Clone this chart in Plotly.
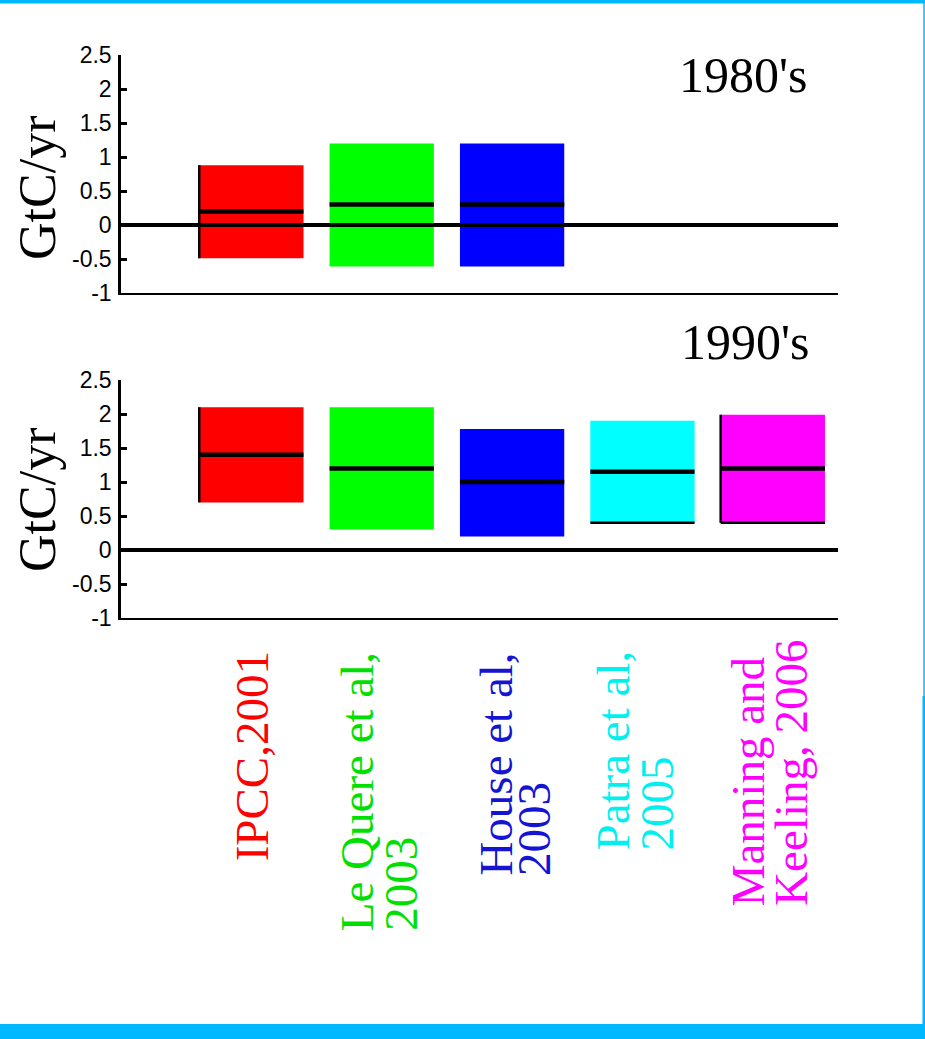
import plotly.graph_objects as go

# ---------------- data ----------------
x_pos = [1, 2, 3, 4, 5]
label_lines = [
    ["IPCC,2001"],
    ["Le Quere et al,", "2003"],
    ["House et al,", "2003"],
    ["Patra et al,", "2005"],
    ["Manning and", "Keeling, 2006"],
]
colors = ["#FF0000", "#00FF00", "#0000FF", "#00FFFF", "#FF00FF"]
label_colors = ["#FF0000", "#00E000", "#1414D2", "#00F0F0", "#FF00FF"]

low_1980s = [-0.49, -0.61, -0.61]
high_1980s = [0.88, 1.20, 1.20]
mid_1980s = [0.20, 0.30, 0.30]

low_1990s = [0.70, 0.30, 0.20, 0.40, 0.40]
high_1990s = [2.10, 2.10, 1.78, 1.90, 1.99]
mid_1990s = [1.40, 1.20, 1.00, 1.15, 1.20]

y_ticks = [-1, -0.5, 0, 0.5, 1, 1.5, 2, 2.5]
y_ticktext = ["-1", "-0.5", "0", "0.5", "1", "1.5", "2", "2.5"]

# style flags: which box edges are outlined in black
left_edge_1980s = [True, False, False]
left_edge_1990s = [True, False, False, False, True]
bottom_edge_1990s = [False, False, False, True, True]

W, H = 925, 1039
BAR_W = 0.8
SERIF = "Liberation Serif, Times New Roman, serif"
SANS = "Liberation Sans, Arial, sans-serif"

fig = go.Figure()


def add_panel(xa, ya, low, high, mid, left_edge, bottom_edge=None):
    n = len(low)
    xs = x_pos[:n]
    fig.add_trace(go.Bar(
        x=xs, y=[h - l for h, l in zip(high, low)], base=low,
        width=BAR_W, marker=dict(color=colors[:n], line=dict(width=0)),
        xaxis=xa, yaxis=ya, showlegend=False, hoverinfo="skip"))
    # medians
    mx, my = [], []
    for xv, m in zip(xs, mid):
        mx += [xv - BAR_W / 2, xv + BAR_W / 2, None]
        my += [m, m, None]
    fig.add_trace(go.Scatter(x=mx, y=my, mode="lines",
                             line=dict(color="black", width=4.5),
                             xaxis=xa, yaxis=ya, showlegend=False, hoverinfo="skip"))
    # black edges
    ex, ey = [], []
    for i, xv in enumerate(xs):
        if left_edge[i]:
            ex += [xv - BAR_W / 2, xv - BAR_W / 2, None]
            ey += [low[i], high[i], None]
        if bottom_edge and bottom_edge[i]:
            ex += [xv - BAR_W / 2, xv + BAR_W / 2, None]
            ey += [low[i], low[i], None]
    if ex:
        fig.add_trace(go.Scatter(x=ex, y=ey, mode="lines",
                                 line=dict(color="black", width=2.5),
                                 xaxis=xa, yaxis=ya, showlegend=False, hoverinfo="skip"))


add_panel("x", "y", low_1980s, high_1980s, mid_1980s, left_edge_1980s)
add_panel("x2", "y2", low_1990s, high_1990s, mid_1990s, left_edge_1990s, bottom_edge_1990s)

# plot-area geometry in px
x_left, x_right = 121, 838
top_panel = (55, 293)
bot_panel = (380, 618)


def dom_y(p):
    return [1 - p[1] / H, 1 - p[0] / H]


xdom = [x_left / W, x_right / W]
ax_common = dict(range=[0, 5.5], showgrid=False, zeroline=False, showticklabels=False,
                 ticks="", showline=True, linecolor="black", linewidth=2, mirror=False,
                 fixedrange=True, automargin=False)
yax_common = dict(range=[-1, 2.5], tickvals=y_ticks, ticktext=y_ticktext,
                  showgrid=False, zeroline=False, showline=True, linecolor="black",
                  linewidth=2.5, ticks="inside", ticklen=6, tickwidth=3, tickcolor="black",
                  tickfont=dict(family=SANS, size=23, color="black"),
                  ticklabelstandoff=2, fixedrange=True, automargin=False)

fig.update_layout(
    template="none",
    width=W, height=H, margin=dict(l=0, r=0, t=0, b=0, pad=0, autoexpand=False),
    paper_bgcolor="white", plot_bgcolor="rgba(0,0,0,0)",
    showlegend=False,
    xaxis=dict(domain=xdom, anchor="y", **ax_common),
    yaxis=dict(domain=dom_y(top_panel), anchor="x", **yax_common),
    xaxis2=dict(domain=xdom, anchor="y2", **ax_common),
    yaxis2=dict(domain=dom_y(bot_panel), anchor="x2", **yax_common),
)

# zero lines drawn above the boxes
for xr, yr in [("x domain", "y"), ("x2 domain", "y2")]:
    fig.add_shape(type="line", xref=xr, yref=yr, x0=0, x1=1, y0=0, y1=0,
                  line=dict(color="black", width=4), layer="above")

# panel titles and y-axis titles
fig.add_annotation(text="1980's", xref="paper", yref="paper", x=743 / W, y=1 - 75 / H,
                   xanchor="center", yanchor="middle",
                   showarrow=False, font=dict(family=SERIF, size=50, color="black"))
fig.add_annotation(text="1990's", xref="paper", yref="paper", x=745 / W, y=1 - 342 / H,
                   xanchor="center", yanchor="middle",
                   showarrow=False, font=dict(family=SERIF, size=50, color="black"))
for yc in [188, 500]:
    fig.add_annotation(text="GtC/yr", xref="paper", yref="paper", x=37 / W, y=1 - yc / H,
                       xanchor="center", yanchor="middle",
                       textangle=-90, showarrow=False,
                       font=dict(family=SERIF, size=52, color="black"))

# category labels (rotated, lines left-aligned = bottom-aligned)
line_shift = [[1], [-25, 19], [-17, 22], [-29, 15], [-25, 18]]
label_bottom = [863, 933, 878, 852, 908]
for i, lines in enumerate(label_lines):
    for j, txt in enumerate(lines):
        fig.add_annotation(text=txt, xref="x2", yref="paper", x=x_pos[i],
                           xshift=line_shift[i][j], y=1 - label_bottom[i] / H,
                           xanchor="center", yanchor="bottom", textangle=-90,
                           showarrow=False,
                           font=dict(family=SERIF, size=47, color=label_colors[i]))

# cyan frame
frame = "#00B8FF"
fig.add_shape(type="rect", xref="paper", yref="paper", x0=0, x1=1, y0=1 - 3.5 / H, y1=1,
              line=dict(width=0), fillcolor=frame, layer="above")
fig.add_shape(type="rect", xref="paper", yref="paper", x0=0, x1=1, y0=0, y1=15 / H,
              line=dict(width=0), fillcolor=frame, layer="above")
fig.add_shape(type="rect", xref="paper", yref="paper", x0=922.5 / W, x1=1, y0=15 / H,
              y1=1 - 696 / H, line=dict(width=0), fillcolor=frame, layer="above")
fig.add_shape(type="rect", xref="paper", yref="paper", x0=923.3 / W, x1=924.8 / W,
              y0=1 - 696 / H, y1=1, line=dict(width=0), fillcolor=frame, layer="above")

fig.write_html("out.html")
